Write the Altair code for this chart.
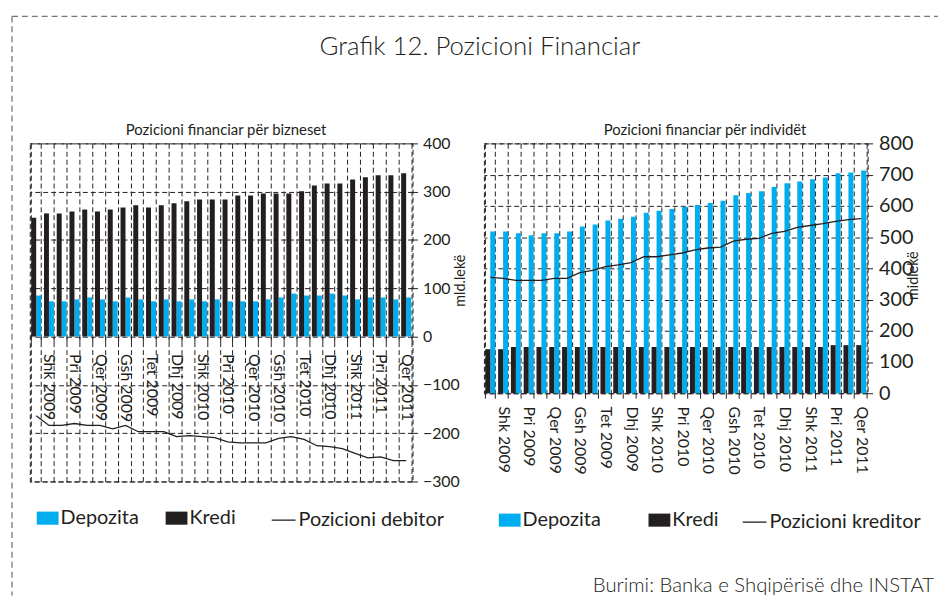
import altair as alt
import pandas as pd

# ---------------- data ----------------
months = [
    "Jan 2009", "Shk 2009", "Mar 2009", "Pri 2009", "Maj 2009", "Qer 2009",
    "Kor 2009", "Gsh 2009", "Sht 2009", "Tet 2009", "Nën 2009", "Dhj 2009",
    "Jan 2010", "Shk 2010", "Mar 2010", "Pri 2010", "Maj 2010", "Qer 2010",
    "Kor 2010", "Gsh 2010", "Sht 2010", "Tet 2010", "Nën 2010", "Dhj 2010",
    "Jan 2011", "Shk 2011", "Mar 2011", "Pri 2011", "Maj 2011", "Qer 2011",
]

biz_depozita = [85, 73, 73, 77, 81, 77, 73, 81, 77, 73, 77, 73, 77, 73, 77,
                73, 73, 73, 77, 81, 89, 85, 85, 89, 85, 77, 81, 81, 77, 81]
biz_kredi = [246, 255, 255, 259, 263, 259, 263, 267, 272, 267, 272, 276, 280, 284, 284,
             284, 292, 292, 296, 296, 296, 301, 313, 317, 317, 325, 330, 334, 334, 338]
biz_pozicioni = [-164, -184, -184, -180, -184, -184, -191, -184, -197, -197, -197, -207, -205, -207, -209,
                 -218, -220, -220, -220, -211, -207, -213, -226, -228, -232, -242, -251, -249, -257, -257]

ind_depozita = [518, 518, 512, 506, 512, 512, 518, 534, 540, 553, 559, 565, 578, 584, 590,
                597, 603, 609, 616, 634, 641, 647, 660, 672, 678, 685, 691, 704, 707, 713]
ind_kredi = [141, 141, 148, 148, 148, 148, 148, 148, 148, 148, 148, 148, 148, 148, 148,
             148, 148, 148, 148, 148, 148, 148, 148, 148, 148, 148, 148, 154, 154, 154]
ind_pozicioni = [371, 368, 361, 361, 361, 368, 368, 386, 393, 405, 411, 418, 437, 437, 443,
                 449, 459, 465, 468, 487, 493, 496, 512, 518, 531, 537, 543, 550, 556, 559]

series_names = ["Depozita", "Kredi"]
bar_order = ["Kredi", "Depozita"]

CYAN = "#00aeef"
BLACK = "#231f20"
TEXT = "#231f20"
FONT = "Lato"


def bars_frame(dep, kre):
    rows = []
    for m, d, k in zip(months, dep, kre):
        rows.append({"month": m, "series": "Depozita", "value": d})
        rows.append({"month": m, "series": "Kredi", "value": k})
    return pd.DataFrame(rows)


def line_frame(vals, name):
    return pd.DataFrame({"month": months, "value": vals, "name": [name] * len(months)})


label_expr = "test(regexp('^(Shk|Pri|Qer|Gsh|Tet|Dhj) '), datum.value) ? datum.value : ''"
rect_path = "M-1,-0.6H1V0.6H-1Z"

blank = alt.Data(values=[{}])


def text_at(txt, x, y, size, align="center", weight=300):
    return alt.Chart(blank).mark_text(
        text=txt, fontSize=size, font=FONT, fontWeight=weight, color=TEXT,
        align=align, baseline="alphabetic").encode(x=alt.value(x), y=alt.value(y))


def frame_line(x1, x2, y1, y2):
    return alt.Chart(blank).mark_rule(color="#777777", strokeDash=[6, 4], strokeWidth=1.3).encode(
        x=alt.value(x1), x2=alt.value(x2), y=alt.value(y1), y2=alt.value(y2))


# decorations (page frame, main title, source note), placed in pixels
frame_top = frame_line(-18, 916, -128, -128)
frame_left = frame_line(-18, -18, -128, 456)
main_title = text_at("Grafik 12. Pozicioni Financiar", 454, -89, 26)
source = text_at("Burimi: Banka e Shqipërisë dhe INSTAT", 912, 452, 20.5, align="right")


def panel(dep, kre, pos, line_name, ydom, ystep, width, height, x_offset,
          label_pad, ylabel_size, ylabel_pad, ytitle, ytitle_x, ytitle_y,
          lx, ly, col_pad, line_lx, extra):
    x_enc = alt.X(
        "month:N", sort=months, title=None,
        scale=alt.Scale(paddingInner=0.22, paddingOuter=0.11),
        axis=alt.Axis(
            labelAngle=90, labelExpr=label_expr, tickBand="extent", grid=True,
            offset=x_offset, domain=False, ticks=True, tickSize=5,
            labelPadding=label_pad, labelFontSize=16, labelColor=TEXT,
            tickColor=BLACK, gridColor=BLACK, gridDash=[5, 3],
        ),
    )
    y_enc = alt.Y(
        "value:Q", title=ytitle,
        scale=alt.Scale(domain=ydom, nice=False, zero=False),
        axis=alt.Axis(
            orient="right", values=list(range(ydom[0], ydom[1] + 1, ystep)),
            grid=True, domain=False, tickSize=5, tickColor=BLACK,
            gridColor=BLACK, gridDash=[5, 3], labelFontSize=ylabel_size,
            labelColor=TEXT, labelPadding=ylabel_pad, titleAngle=270, titleX=ytitle_x,
            titleY=ytitle_y, titleFontSize=14.5, titleFontWeight="normal",
            titleColor=TEXT,
        ),
    )
    bars = alt.Chart(bars_frame(dep, kre)).mark_bar().encode(
        x=x_enc,
        xOffset=alt.XOffset("series:N", scale=alt.Scale(domain=bar_order, paddingInner=0, paddingOuter=0)),
        y=y_enc,
        color=alt.Color(
            "series:N",
            scale=alt.Scale(domain=series_names, range=[CYAN, BLACK]),
            legend=alt.Legend(
                title=None, orient="none", legendX=lx, legendY=ly,
                direction="horizontal", symbolType=rect_path, symbolSize=484,
                symbolStrokeWidth=0, labelFontSize=20, labelColor=TEXT,
                labelOffset=2, columnPadding=col_pad, padding=0,
            ),
        ),
    )
    line = alt.Chart(line_frame(pos, line_name)).mark_line(strokeWidth=1.3).encode(
        x=x_enc,
        y=y_enc,
        stroke=alt.Stroke(
            "name:N",
            scale=alt.Scale(domain=[line_name], range=[BLACK]),
            legend=alt.Legend(
                title=None, orient="none", legendX=line_lx, legendY=ly,
                symbolType="stroke", symbolSize=576, symbolStrokeWidth=1.3,
                labelFontSize=20, labelColor=TEXT, labelOffset=2, padding=0,
            ),
        ),
    )
    data_layer = alt.layer(bars, line)
    return alt.layer(data_layer, *extra).resolve_scale(x="independent").properties(
        width=width, height=height)


left = panel(biz_depozita, biz_kredi, biz_pozicioni, "Pozicioni debitor",
             [-300, 400], 100, 386, 341, -146, 12, 16, 5, "mld.lekë", 55, 138,
             7, 367, 27, 243,
             [text_at("Pozicioni financiar për bizneset", 198, -8, 15, weight=400),
              frame_top, frame_left, main_title, source])

right = panel(ind_depozita, ind_kredi, ind_pozicioni, "Pozicioni kreditor",
              [0, 800], 100, 387, 252, 0, 8, 20, 6, "midlekë", 53, 133,
              15, 369, 48, 260,
              [text_at("Pozicioni financiar për individët", 223, -8, 15, weight=400)])

chart = alt.hconcat(left, right, spacing=72, bounds="flush").resolve_scale(
    color="independent", stroke="independent", x="independent", y="independent"
).resolve_legend(color="independent", stroke="independent").properties(
    autosize=alt.AutoSizeParams(type="none"),
    padding={"left": 22, "top": 134, "right": 918, "bottom": 456},
).configure(font=FONT).configure_view(stroke=BLACK, strokeDash=[5, 3])

chart.save("out.html", embed_options={"renderer": "svg", "actions": False})
